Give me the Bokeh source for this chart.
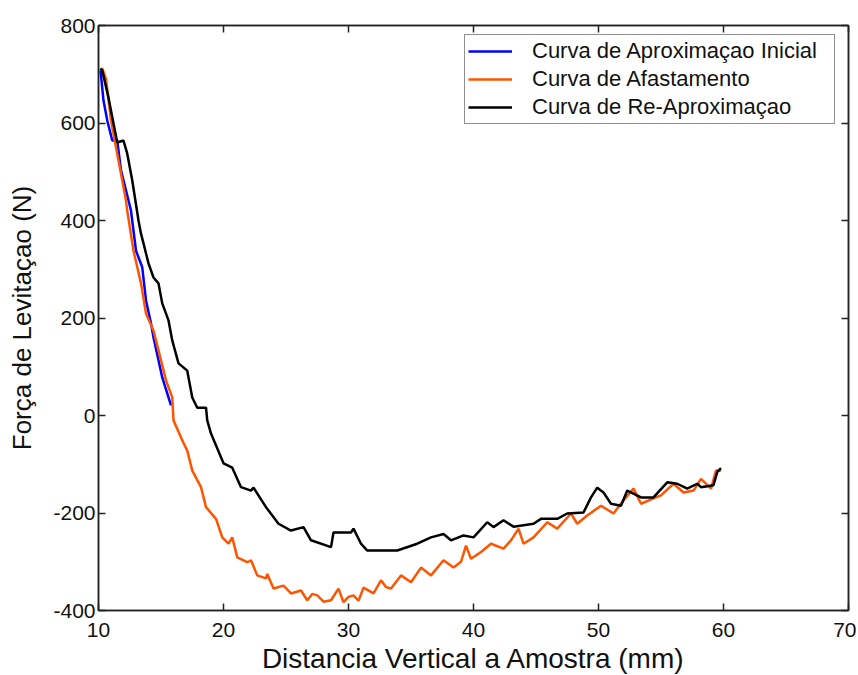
from bokeh.plotting import figure
from bokeh.models import LinearAxis, FixedTicker, Range1d, Legend, LegendItem
from bokeh.embed import file_html
from bokeh.resources import INLINE

# --- data ---
blue_x = [10.16, 10.4, 10.7, 11.1, 11.5, 11.8, 12.4, 12.6, 13.0, 13.5, 13.8, 14.2, 14.4, 15.1, 15.6, 15.8]
blue_y = [708, 646, 605, 564, 564, 503, 441, 420, 338, 304, 236, 189, 160, 78, 37, 21]

orange_x = [10.3, 10.6, 11.0, 11.6, 12.2, 12.3, 12.8, 13.4, 13.8, 14.4, 15.0, 15.4, 15.9, 16.0, 16.7, 17.1, 17.5,
            18.2, 18.6, 19.4, 19.9, 20.4, 20.7, 21.1, 21.9, 22.2, 22.7, 23.4, 23.5, 24.0, 24.8, 25.4, 26.2,
            26.7, 27.1, 27.5, 28.0, 28.6, 29.2, 29.6, 30.0, 30.4, 30.8, 31.2, 32.0, 32.6, 33.0, 33.4, 34.2,
            35.0, 35.8, 36.6, 37.6, 38.4, 39.0, 39.4, 39.8, 40.6, 41.4, 42.4, 43.0, 43.6, 44.0, 44.8, 45.9,
            46.7, 47.8, 48.3, 49.1, 50.2, 51.2, 52.0, 52.8, 53.4, 54.4, 55.0, 56.0, 56.8, 57.6, 58.2, 59.0,
            59.4, 59.8]
orange_y = [712, 690, 605, 523, 441, 420, 338, 271, 209, 174, 113, 72, 37, -10, -51, -72, -113,
            -147, -188, -212, -250, -263, -250, -291, -301, -297, -328, -334, -325, -355, -349, -365, -359,
            -379, -366, -369, -382, -379, -355, -383, -372, -369, -380, -353, -365, -338, -352, -355, -328,
            -342, -312, -328, -297, -312, -300, -267, -294, -280, -263, -273, -256, -232, -263, -250, -219,
            -232, -201, -222, -205, -185, -201, -174, -150, -181, -170, -164, -140, -158, -154, -130, -150,
            -113, -113]

black_x = [10.16, 10.3, 10.8, 11.2, 11.5, 12.0, 12.3, 12.7, 13.2, 13.4, 13.6, 14.0, 14.4, 14.8, 15.1, 15.6,
           15.9, 16.4, 17.1, 17.5, 17.9, 18.6, 18.7, 19.0, 20.0, 20.7, 21.4, 22.2, 22.4, 23.4, 24.4, 25.4,
           26.4, 27.0, 28.6, 28.8, 30.2, 30.4, 31.0, 31.5, 33.9, 35.5, 36.6, 37.6, 38.2, 39.2, 40.0, 41.1,
           41.6, 42.4, 43.2, 44.8, 45.4, 46.7, 47.5, 48.8, 49.4, 49.9, 50.4, 51.0, 51.8, 52.3, 53.4, 54.4,
           55.5, 56.3, 57.1, 57.9, 58.2, 59.2, 59.5, 59.8]
black_y = [712, 708, 652, 599, 560, 564, 537, 482, 400, 373, 353, 312, 283, 271, 230, 195,
           154, 107, 92, 37, 16, 16, -10, -37, -98, -107, -147, -154, -148, -188, -222, -236,
           -229, -256, -270, -240, -240, -232, -263, -277, -277, -263, -250, -243, -256, -246, -250, -219,
           -229, -215, -228, -222, -212, -212, -201, -199, -168, -148, -158, -181, -185, -154, -168, -168,
           -137, -140, -150, -140, -147, -143, -116, -108]

series_names = ["Curva de Aproximaçao Inicial", "Curva de Afastamento", "Curva de Re-Aproximaçao"]
x_ticks = [10, 20, 30, 40, 50, 60, 70]
y_ticks = [-400, -200, 0, 200, 400, 600, 800]
x_label = "Distancia Vertical a Amostra (mm)"
y_label = "Força de Levitaçao (N)"

FONT = "Liberation Sans"

p = figure(frame_width=750, frame_height=585, output_backend="svg", toolbar_location=None,
           x_range=Range1d(10, 70), y_range=Range1d(-400, 800),
           min_border_left=98, min_border_right=8, min_border_top=25, min_border_bottom=62,
           x_axis_label=x_label, y_axis_label=y_label)
p.background_fill_color = "white"
p.border_fill_color = "white"
p.outline_line_color = "#222222"
p.outline_line_width = 1.5
p.xgrid.visible = False
p.ygrid.visible = False

def style_axis(ax, ticks, show_labels):
    ax.ticker = FixedTicker(ticks=ticks)
    ax.major_tick_in = 7
    ax.major_tick_out = 0
    ax.minor_tick_line_color = None
    ax.axis_line_color = "#222222"
    ax.axis_line_width = 1.5
    ax.major_tick_line_color = "#222222"
    ax.major_tick_line_width = 1.5
    ax.major_label_text_font = FONT
    ax.major_label_text_color = "#111111"
    ax.axis_label_text_font = FONT
    ax.axis_label_text_font_style = "normal"
    ax.axis_label_text_color = "#111111"
    if show_labels:
        ax.major_label_text_font_size = "21px"
    else:
        ax.major_label_text_font_size = "0px"
        ax.major_label_standoff = 0
        ax.major_label_overrides = {t: "" for t in ticks}

style_axis(p.xaxis[0], x_ticks, True)
style_axis(p.yaxis[0], y_ticks, True)
p.xaxis[0].axis_label_text_font_size = "28px"
p.yaxis[0].axis_label_text_font_size = "26px"
p.xaxis[0].major_label_standoff = 12
p.xaxis[0].axis_label_standoff = 3
p.yaxis[0].major_label_standoff = 3
p.yaxis[0].axis_label_standoff = 13
p.yaxis[0].major_label_overrides = {t: str(t) for t in y_ticks}

top = LinearAxis()
style_axis(top, x_ticks, False)
p.add_layout(top, "above")
right = LinearAxis()
style_axis(right, y_ticks, False)
p.add_layout(right, "right")

r_blue = p.line(blue_x, blue_y, line_color="#0000FF", line_width=2.5)
r_orange = p.line(orange_x, orange_y, line_color="#FF5500", line_width=2.5)
r_black = p.line(black_x, black_y, line_color="#000000", line_width=2.5)

legend = Legend(items=[LegendItem(label=series_names[0], renderers=[r_blue]),
                       LegendItem(label=series_names[1], renderers=[r_orange]),
                       LegendItem(label=series_names[2], renderers=[r_black])],
                location=(366, 486))
legend.label_text_font = FONT
legend.label_text_font_size = "22px"
legend.label_text_color = "#111111"
legend.glyph_width = 44
legend.glyph_height = 22
legend.label_standoff = 20
legend.label_height = 22
legend.label_width = 299
legend.spacing = 2
legend.padding = 3
legend.margin = 0
legend.border_line_color = "#222222"
legend.border_line_width = 1.5
legend.background_fill_alpha = 1.0
p.add_layout(legend, "center")

open("out.html", "w").write(file_html(p, INLINE))
